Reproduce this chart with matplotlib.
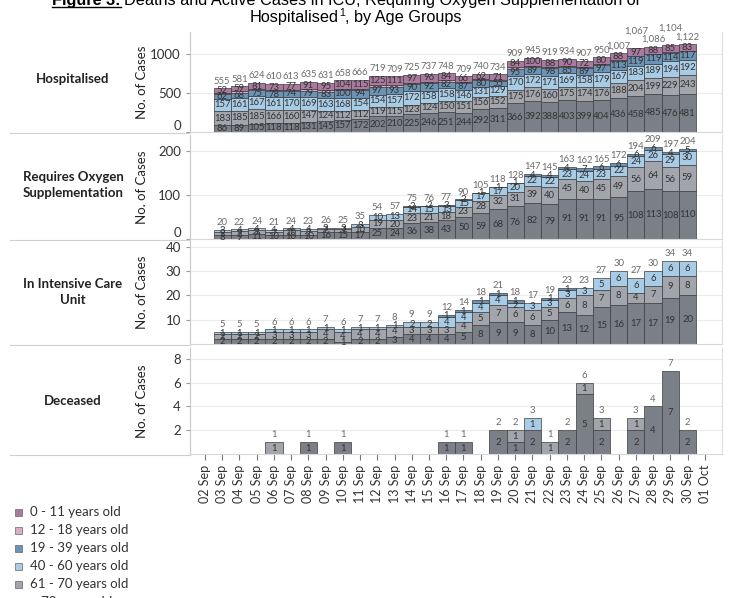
import matplotlib.pyplot as plt
import numpy as np
from matplotlib.lines import Line2D
from matplotlib.patches import Rectangle

plt.rcParams['font.family'] = ['Lato', 'DejaVu Sans']

dates = ['02 Sep', '03 Sep', '04 Sep', '05 Sep', '06 Sep', '07 Sep', '08 Sep', '09 Sep',
         '10 Sep', '11 Sep', '12 Sep', '13 Sep', '14 Sep', '15 Sep', '16 Sep', '17 Sep',
         '18 Sep', '19 Sep', '20 Sep', '21 Sep', '22 Sep', '23 Sep', '24 Sep', '25 Sep',
         '26 Sep', '27 Sep', '28 Sep', '29 Sep', '30 Sep', '01 Oct']
# bars run from 03 Sep to 30 Sep
bar_dates = dates[1:29]

groups = ['0 - 11 years old', '12 - 18 years old', '19 - 39 years old',
          '40 - 60 years old', '61 - 70 years old', '> 70 years old']
colors = ['#a9799f', '#dcadcb', '#6b93b6', '#a8cbe6', '#a2a6ac', '#7a7f88']

# Hospitalised
hosp_70p = [86, 89, 105, 118, 118, 131, 145, 157, 172, 202, 210, 225, 246, 251,
            244, 292, 311, 366, 392, 388, 403, 399, 404, 436, 458, 485, 476, 481]
hosp_61_70 = [183, 185, 185, 166, 160, 147, 124, 112, 112, 119, 115, 123, 124, 150,
              151, 156, 152, 175, 176, 160, 175, 174, 176, 188, 204, 199, 229, 243]
hosp_40_60 = [157, 161, 167, 161, 170, 169, 163, 168, 154, 154, 157, 172, 158, 158,
              146, 131, 129, 170, 172, 171, 169, 158, 179, 167, 183, 189, 194, 192]
hosp_19_39 = [62, 68, 75, 78, 74, 79, 83, 100, 94, 97, 93, 90, 92, 82,
              87, 80, 55, 95, 89, 98, 85, 89, 97, 113, 119, 119, 114, 117]
hosp_12_18 = [15, 19, 11, 14, 14, 18, 21, 17, 19, 22, 23, 18, 21, 23,
              15, 19, 16, 19, 16, 14, 12, 15, 14, 15, 6, 6, 6, 6]
hosp_0_11 = [52, 59, 81, 73, 77, 91, 95, 104, 115, 125, 111, 97, 96, 84,
             66, 62, 71, 84, 100, 88, 90, 72, 80, 88, 97, 88, 85, 83]

# Requires oxygen supplementation
oxy_70p = [8, 9, 11, 10, 10, 10, 16, 15, 17, 25, 24, 36, 38, 43,
           50, 59, 68, 76, 82, 79, 91, 91, 91, 95, 108, 113, 108, 110]
oxy_61_70 = [9, 9, 9, 7, 10, 9, 7, 7, 10, 19, 20, 23, 21, 18,
             23, 28, 32, 31, 39, 40, 45, 40, 45, 49, 56, 64, 56, 59]
oxy_40_60 = [3, 4, 4, 4, 4, 4, 3, 3, 8, 10, 13, 14, 15, 13,
             15, 17, 17, 20, 22, 22, 23, 24, 23, 22, 24, 26, 29, 30]
oxy_19_39 = [0, 0, 0, 0, 0, 0, 0, 0, 0, 0, 0, 2, 2, 3,
             2, 1, 1, 1, 4, 4, 4, 7, 6, 6, 6, 6, 4, 5]

# In intensive care unit
icu_70p = [2, 2, 2, 2, 2, 2, 2, 1, 2, 2, 3, 4, 4, 4,
           5, 8, 9, 9, 8, 10, 13, 12, 15, 16, 17, 17, 19, 20]
icu_61_70 = [2, 2, 2, 3, 3, 3, 4, 4, 4, 4, 4, 3, 3, 3,
             4, 5, 7, 6, 6, 5, 6, 8, 7, 8, 4, 7, 9, 8]
icu_40_60 = [1, 1, 1, 1, 1, 1, 1, 1, 1, 1, 1, 2, 2, 4,
             4, 4, 4, 2, 3, 3, 3, 3, 5, 6, 6, 6, 6, 6]
icu_19_39 = [0, 0, 0, 0, 0, 0, 0, 0, 0, 0, 0, 0, 0, 1,
             1, 1, 1, 1, 0, 1, 1, 0, 0, 0, 0, 0, 0, 0]

# Deceased
dec_70p = [0, 0, 0, 0, 0, 1, 0, 1, 0, 0, 0, 0, 0, 1,
           1, 0, 2, 1, 2, 0, 2, 5, 2, 0, 2, 4, 7, 2]
dec_61_70 = [0, 0, 0, 1, 0, 0, 0, 0, 0, 0, 0, 0, 0, 0,
             0, 0, 0, 1, 0, 1, 0, 1, 1, 0, 1, 0, 0, 0]
dec_40_60 = [0, 0, 0, 0, 0, 0, 0, 0, 0, 0, 0, 0, 0, 0,
             0, 0, 0, 0, 1, 0, 0, 0, 0, 0, 0, 0, 0, 0]

W, H = 747, 598
fig = plt.figure(figsize=(W / 100, H / 100), dpi=100)

# (row label, top px, bottom px, ymax, yticks, stacks bottom->top, label y px)
panels = [
    ('Hospitalised', 32, 132, 1275, [0, 500, 1000],
     [(hosp_70p, 5), (hosp_61_70, 4), (hosp_40_60, 3), (hosp_19_39, 2),
      (hosp_12_18, 1), (hosp_0_11, 0)], 79),
    ('Requires Oxygen\nSupplementation', 135, 239, 236, [0, 100, 200],
     [(oxy_70p, 5), (oxy_61_70, 4), (oxy_40_60, 3), (oxy_19_39, 2)], 185),
    ('In Intensive Care\nUnit', 241, 344, 42.3, [10, 20, 30, 40],
     [(icu_70p, 5), (icu_61_70, 4), (icu_40_60, 3), (icu_19_39, 2)], 292),
    ('Deceased', 348, 454, 8.9, [2, 4, 6, 8],
     [(dec_70p, 5), (dec_61_70, 4), (dec_40_60, 3)], 401),
]

x = np.arange(1, 29)
for k, (name, top, bot, ymax, yt, stacks, ylab) in enumerate(panels):
    ax = fig.add_axes([190 / W, 1 - bot / H, 532 / W, (bot - top) / H])
    base = np.zeros(len(x))
    for vals, ci in stacks:
        v = np.array(vals, dtype=float)
        m = v > 0
        ax.bar(x[m], v[m], width=1.0, bottom=base[m], color=colors[ci],
               edgecolor='#3c3c3c', linewidth=0.5, zorder=2)
        if ci != 1:
            for xi, b, vi in zip(x[m], base[m], v[m]):
                ax.text(xi, b + vi / 2, f'{int(vi)}', ha='center', va='center',
                        fontsize=6.8, color='#333333', zorder=3)
        base = base + v
    big = 0
    for xi, t in zip(x, base):
        if t <= 0:
            continue
        off = 2
        if t >= 1000:
            # large totals are staggered so they don't collide
            off = 2 if big % 2 == 0 else 9
            big += 1
        ax.annotate(f'{int(t):,}', (xi, t), xytext=(0, off), textcoords='offset points',
                    ha='center', va='bottom', fontsize=6.8, color='#6b6b6b')
    ax.set_xlim(-0.87, 30.0)
    ax.set_ylim(0, ymax)
    ax.set_yticks(yt)
    ax.tick_params(axis='y', labelsize=9.5, labelcolor='#333333', length=3, color='#999999')
    if yt[0] == 0:
        ax.get_yticklabels()[0].set_verticalalignment('bottom')
    ax.set_xticks(range(len(dates)))
    if k == len(panels) - 1:
        ax.set_xticklabels(dates, rotation=90, fontsize=9, color='#333333')
        ax.tick_params(axis='x', length=4, color='#777777')
    else:
        ax.tick_params(axis='x', labelbottom=False, length=0)
    ax.yaxis.grid(True, color='#ececec', linewidth=0.8)
    ax.set_axisbelow(True)
    ax.spines['top'].set_visible(False)
    ax.spines['left'].set_color('#c8c8c8')
    ax.spines['right'].set_color('#dddddd')
    ax.spines['bottom'].set_color('#d8d8d8')
    ax.set_ylabel('No. of Cases', fontsize=9.5, color='#222222')
    ax.yaxis.set_label_coords(-(190 - 148) / 532, 0.5)
    fig.text(73 / W, 1 - ylab / H, name, ha='center', va='center', fontsize=9.5,
             fontweight='bold', color='#222222', linespacing=1.4)
    fig.add_artist(Line2D([10 / W, 190 / W], [1 - (bot + 1) / H] * 2,
                          color='#d0d0d0', linewidth=0.8))

# title (first line is cut off by the top edge)
r = fig.canvas.get_renderer()
tf = dict(fontsize=11.7, family=['Liberation Sans'], va='baseline')
t1 = fig.text(52 / W, 1 - 5 / H, 'Figure 3:', fontweight='bold', **tf)
w1 = t1.get_window_extent(r).width
fig.text((52 + w1 + 4) / W, 1 - 5 / H,
         'Deaths and Active Cases in ICU, Requiring Oxygen Supplementation or', **tf)
fig.add_artist(Line2D([52 / W, (52 + w1) / W], [1 - 7 / H] * 2, color='black', linewidth=1))

# second title line with a raised footnote mark
ta = fig.text(0, 1 - 22 / H, 'Hospitalised', **tf)
tb = fig.text(0, 1 - 16 / H, '1', fontsize=7.5, family=['Liberation Sans'], va='baseline')
tc = fig.text(0, 1 - 22 / H, ', by Age Groups', **tf)
wa = ta.get_window_extent(r).width
wb = tb.get_window_extent(r).width
wc = tc.get_window_extent(r).width
x0 = 355 - (wa + wb + wc) / 2
ta.set_x(x0 / W)
tb.set_x((x0 + wa + 0.5) / W)
tc.set_x((x0 + wa + wb + 0.5) / W)

# legend
for i, (g, c) in enumerate(zip(groups, colors)):
    y = 512 + 18 * i
    fig.add_artist(Rectangle((15 / W, 1 - (y + 4) / H), 7 / W, 7 / H, facecolor=c,
                             edgecolor='#666666', linewidth=0.5,
                             transform=fig.transFigure))
    fig.text(30 / W, 1 - y / H, g, va='center', fontsize=9.5, color='#333333')

fig.savefig('out.png', dpi=100)
